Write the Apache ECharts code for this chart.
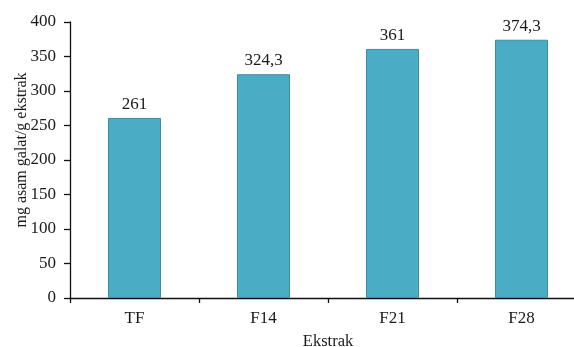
<!DOCTYPE html>
<html>
<head>
<meta charset="utf-8">
<script src="https://cdn.jsdelivr.net/npm/echarts@6/dist/echarts.min.js"></script>
<style>
html, body { margin: 0; padding: 0; background: #fff; }
#chart { width: 574px; height: 347px; }
</style>
</head>
<body>
<div id="chart"></div>
<script>
// Total phenolic content per extract (mg gallic acid / g extract)
const categories = ['TF', 'F14', 'F21', 'F28'];
const values = [261, 324.3, 361, 374.3];
const yTicks = { min: 0, max: 400, interval: 50 };

const serif = '"Liberation Serif", "Times New Roman", serif';
const chart = echarts.init(document.getElementById('chart'), null, { renderer: 'canvas' });

chart.setOption({
  animation: false,
  backgroundColor: '#ffffff',
  grid: { left: 70, top: 22, bottom: 49, width: 516, containLabel: false, outerBoundsMode: 'none' },
  xAxis: {
    type: 'category',
    data: categories,
    name: 'Ekstrak',
    nameLocation: 'middle',
    nameGap: 35,
    nameMoveOverlap: false,
    nameTextStyle: { fontFamily: serif, fontSize: 16.5, color: '#1a1a1a' },
    axisLine: { lineStyle: { color: '#111', width: 1.3 } },
    axisTick: { show: true, inside: false, length: 5, alignWithLabel: false, lineStyle: { color: '#111', width: 1.3 } },
    axisLabel: { fontFamily: serif, fontSize: 17, color: '#1a1a1a', margin: 12 }
  },
  yAxis: {
    type: 'value',
    min: yTicks.min,
    max: yTicks.max,
    interval: yTicks.interval,
    name: 'mg asam galat/g ekstrak',
    nameLocation: 'middle',
    nameRotate: 90,
    nameGap: 40,
    nameMoveOverlap: false,
    nameTextStyle: { fontFamily: serif, fontSize: 16, color: '#1a1a1a', padding: [0, 0, 0, 20] },
    axisLine: { show: true, lineStyle: { color: '#111', width: 1.3 } },
    axisTick: { show: true, inside: false, length: 6, lineStyle: { color: '#111', width: 1.3 } },
    axisLabel: { fontFamily: serif, fontSize: 17, color: '#1a1a1a', margin: 14 },
    splitLine: { show: false }
  },
  series: [{
    type: 'bar',
    data: values,
    barWidth: 53,
    itemStyle: { color: '#4BACC6', borderColor: '#3A8CA3', borderWidth: 1 },
    label: {
      show: true,
      position: 'top',
      distance: 5,
      fontFamily: serif,
      fontSize: 17,
      color: '#1a1a1a',
      formatter: p => String(p.value).replace('.', ',')
    }
  }]
});
</script>
</body>
</html>
